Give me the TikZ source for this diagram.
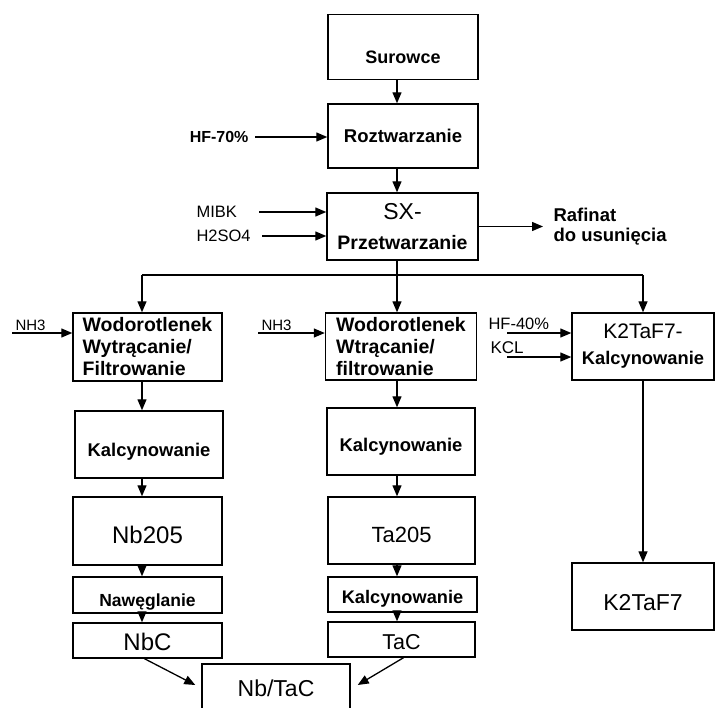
\documentclass[tikz,border=0pt]{standalone}
\usepackage{fontspec}
\setmainfont{Liberation Sans}
\usetikzlibrary{arrows.meta}

\newcommand{\fs}[1]{\fontsize{#1}{#1}\selectfont}
% set a label with no vertical extent, its baseline #1 below the node centre
\newcommand{\lowered}[2]{\raisebox{-#1}[0pt][0pt]{#2}}

\tikzset{
  box/.style={draw, line width=1.4pt, inner sep=0pt, align=center},
  flow/.style={line width=1.3pt, -{Triangle[length=11pt,width=9pt]}},
  pipe/.style={line width=1.3pt},
  bold/.style={font=\fontsize{#1}{22}\selectfont\bfseries},
  plain/.style={font=\fontsize{#1}{24}\selectfont},
}

\begin{document}
\begin{tikzpicture}[x=1pt,y=-1pt]
\useasboundingbox (0,0) rectangle (717,707);
\clip (0,0) rectangle (717,707);

% column axes
\coordinate (lx) at (142,0);
\coordinate (mx) at (397,0);
\coordinate (rx) at (643,0);
\coordinate (bus) at (0,275);

% main line
\node[box, bold=18, minimum width=150, minimum height=65] (sur) at (403,47) {\lowered{16.5pt}{Surowce}};
\node[box, bold=18.5, minimum width=150, minimum height=64] (roz) at (403,136) {Roztwarzanie};
\node[box, bold=19.5, minimum width=151, minimum height=67] (sx) at (402.5,226.5)
  {{\mdseries\fs{23}SX-}\\[8pt]Przetwarzanie};

% reagents fed to the main line
\node[bold=16, anchor=east] (hf70) at (252,137) {HF-70\%};
\node[plain=16.5, anchor=west] (mibk) at (193,212) {MIBK};
\node[plain=16.5, anchor=west] (h2so4) at (193,236) {H2SO4};
\node[anchor=west, align=left, font=\fontsize{18.5}{20}\selectfont\bfseries] (raf) at (550,227) {Rafinat\\do usunięcia};

\draw[flow] (sur.south -| mx) -- (roz.north -| mx);
\draw[flow] (roz.south -| mx) -- (sx.north -| mx);
\draw[flow] ([xshift=3pt]hf70.east) -- (roz.west |- hf70.east);
\draw[flow] ([xshift=19pt]mibk.east) -- (sx.west |- mibk.east);
\draw[flow] (h2so4.east) ++(8pt,0) -- (sx.west |- h2so4.east);
\draw[flow] (sx.east) -- ([xshift=-7pt]raf.west |- sx.east);

% split into three branches
\draw[pipe] (sx.south -| mx) -- (bus -| mx);
\draw[pipe] (bus -| lx) -- (bus -| rx);

% branch boxes
\node[box, bold=19.5, align=left, minimum width=149, minimum height=68] (wl) at (147.5,347)
  {Wodorotlenek\\Wytrącanie/\\Filtrowanie};
\node[box, bold=19.5, align=left, minimum width=151, minimum height=67] (wm) at (401,346.5)
  {Wodorotlenek\\Wtrącanie/\\filtrowanie};
\node[box, bold=18.3, minimum width=142, minimum height=67] (kr) at (643,346.5)
  {{\mdseries\fs{21}K2TaF7-}\\[4pt]Kalcynowanie};

\draw[flow] (bus -| lx) -- (wl.north -| lx);
\draw[flow] (bus -| mx) -- (wm.north -| mx);
\draw[flow] (bus -| rx) -- (kr.north -| rx);

% reagents fed to the branches
\coordinate (nh3l) at (12,333);
\coordinate (nh3m) at (258,333);
\coordinate (hf40) at (507,333);
\coordinate (kcl) at (507,357);
\node[plain=15, anchor=base west] at (12,330) (nh3ltxt) {NH3};
\node[plain=15, anchor=base west] at (258,330) (nh3mtxt) {NH3};
\node[plain=16.5, anchor=base west] at (485,329) (hf40txt) {HF-40\%};
\node[plain=17, anchor=base west] at (487,353) (kcltxt) {KCL};
\draw[flow] (nh3l) -- (nh3l -| wl.west);
\draw[flow] (nh3m) -- (nh3m -| wm.west);
\draw[flow] (hf40) -- (hf40 -| kr.west);
\draw[flow] (kcl) -- (kcl -| kr.west);

% left branch: niobium
\node[box, bold=18.4, minimum width=148, minimum height=67] (kl) at (149,444.5) {\lowered{12.1pt}{Kalcynowanie}};
\node[box, plain=24, minimum width=149, minimum height=68] (nb2o5) at (147.5,531) {\lowered{12.6pt}{Nb205}};
\node[box, bold=17.5, minimum width=149, minimum height=36] (naw) at (147.5,595) {\lowered{11.3pt}{Nawęglanie}};
\node[box, plain=24, minimum width=149, minimum height=35] (nbc) at (147.5,640.5) {\lowered{10.1pt}{NbC}};

\draw[flow] (wl.south -| lx) -- (kl.north -| lx);
\draw[flow] (kl.south -| lx) -- (nb2o5.north -| lx);
\draw[flow] (nb2o5.south -| lx) -- (naw.north -| lx);
\draw[flow] (naw.south -| lx) -- (nbc.north -| lx);

% middle branch: tantalum
\node[box, bold=18.4, minimum width=148, minimum height=67] (km) at (401,441.5) {\lowered{10.1pt}{Kalcynowanie}};
\node[box, plain=22, minimum width=147, minimum height=67] (ta2o5) at (401.5,530.5) {\lowered{12.4pt}{Ta205}};
\node[box, bold=18.2, minimum width=149, minimum height=35] (km2) at (402.5,594.5) {\lowered{9pt}{Kalcynowanie}};
\node[box, plain=21.5, minimum width=147, minimum height=35] (tac) at (401.5,639.5) {\lowered{10.2pt}{TaC}};

\draw[flow] (wm.south -| mx) -- (km.north -| mx);
\draw[flow] (km.south -| mx) -- (ta2o5.north -| mx);
\draw[flow] (ta2o5.south -| mx) -- (km2.north -| mx);
\draw[flow] (km2.south -| mx) -- (tac.north -| mx);

% right branch
\node[box, plain=23, minimum width=142, minimum height=67] (k2) at (643,596.5) {\lowered{13.7pt}{K2TaF7}};
\draw[flow] (kr.south -| rx) -- (k2.north -| rx);

% combined carbide
\node[box, plain=23, minimum width=148, minimum height=60] (nbtac) at (276,694) {\lowered{2.2pt}{Nb/TaC}};
\draw[flow] ([xshift=-3pt]nbc.south) -- ([xshift=-6pt,yshift=9pt]nbtac.west);
\draw[flow] ([xshift=2pt]tac.south) -- ([xshift=7pt,yshift=9pt]nbtac.east);

\end{tikzpicture}
\end{document}
